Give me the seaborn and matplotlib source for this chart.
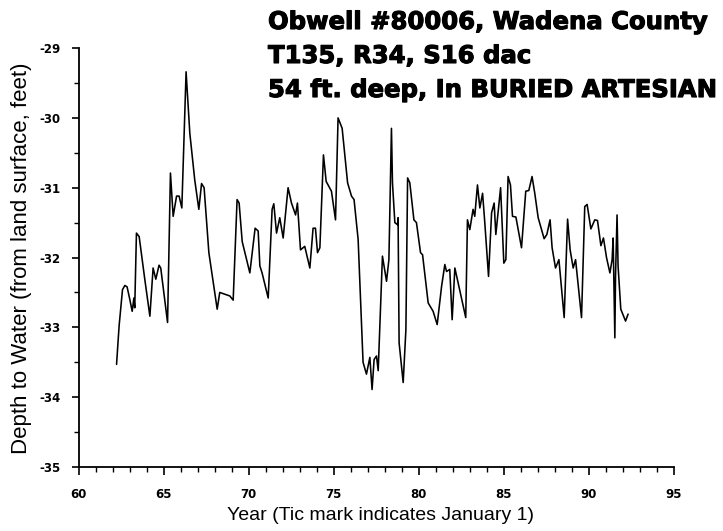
import numpy as np
import pandas as pd
import matplotlib
matplotlib.use("Agg")
import matplotlib.pyplot as plt
import matplotlib.patheffects as pe
import seaborn as sns

# Obwell #80006 hydrograph
year = [62.22, 62.37, 62.57, 62.71, 62.84, 63.00, 63.14, 63.24, 63.29, 63.39,
        63.55, 63.88, 64.18, 64.37, 64.53, 64.72, 64.82, 65.22, 65.39, 65.55,
        65.75, 65.90, 66.06, 66.31, 66.53, 66.82, 67.06, 67.22, 67.37, 67.65,
        68.14, 68.29, 68.88, 69.08, 69.31, 69.43, 69.61, 70.06, 70.37, 70.55,
        70.65, 70.78, 71.14, 71.37, 71.47, 71.63, 71.82, 72.02, 72.31, 72.51,
        72.75, 72.86, 73.04, 73.29, 73.59, 73.78, 73.92, 74.04, 74.18, 74.39,
        74.55, 74.86, 75.10, 75.25, 75.49, 75.81, 76.04, 76.19, 76.43, 76.72,
        76.92, 77.12, 77.25, 77.37, 77.51, 77.61, 77.86, 78.10, 78.24, 78.39,
        78.45, 78.59, 78.75, 78.78, 78.84, 79.08, 79.24, 79.34, 79.47, 79.71,
        79.86, 80.10, 80.22, 80.55, 80.84, 81.08, 81.34, 81.53, 81.63, 81.82,
        81.96, 82.12, 82.76, 82.86, 83.00, 83.19, 83.29, 83.45, 83.59, 83.75,
        83.88, 84.10, 84.28, 84.43, 84.53, 84.81, 85.00, 85.12, 85.25, 85.39,
        85.51, 85.71, 86.04, 86.29, 86.47, 86.66, 86.82, 87.02, 87.37, 87.53,
        87.72, 87.84, 88.04, 88.24, 88.55, 88.75, 88.90, 89.08, 89.22, 89.57,
        89.76, 89.90, 90.12, 90.35, 90.51, 90.71, 90.86, 91.04, 91.24, 91.37,
        91.43, 91.53, 91.57, 91.66, 91.72, 91.88, 92.16, 92.31]

depth = [-33.53, -32.98, -32.46, -32.40, -32.42, -32.60, -32.77, -32.58, -32.72, -31.65,
         -31.70, -32.31, -32.84, -32.15, -32.31, -32.11, -32.15, -32.93, -30.79, -31.41,
         -31.12, -31.12, -31.29, -29.34, -30.22, -30.89, -31.31, -30.94, -31.00, -31.93,
         -32.74, -32.50, -32.55, -32.61, -31.17, -31.22, -31.77, -32.22, -31.58, -31.62,
         -32.12, -32.22, -32.58, -31.31, -31.23, -31.65, -31.43, -31.72, -31.00, -31.22,
         -31.39, -31.22, -31.89, -31.84, -32.15, -31.58, -31.58, -31.93, -31.86, -30.53,
         -30.91, -31.05, -31.46, -30.00, -30.15, -30.93, -31.12, -31.17, -31.74, -33.50,
         -33.67, -33.43, -33.89, -33.46, -33.41, -33.62, -31.98, -32.34, -32.03, -30.15,
         -30.93, -31.50, -31.53, -31.43, -33.22, -33.79, -33.03, -30.86, -30.93, -31.46,
         -31.50, -31.93, -31.96, -32.65, -32.77, -32.96, -32.41, -32.10, -32.20, -32.17,
         -32.89, -32.15, -32.86, -31.46, -31.60, -31.31, -31.41, -30.96, -31.29, -31.08,
         -31.50, -32.27, -31.36, -31.22, -31.67, -31.00, -32.08, -32.03, -30.84, -30.96,
         -31.41, -31.42, -31.86, -31.05, -31.04, -30.84, -31.08, -31.43, -31.73, -31.67,
         -31.46, -31.86, -32.15, -32.03, -32.86, -31.45, -31.89, -32.15, -32.03, -32.86,
         -31.27, -31.24, -31.59, -31.46, -31.47, -31.83, -31.72, -32.00, -32.22, -32.03,
         -31.72, -33.15, -32.27, -31.39, -32.12, -32.74, -32.91, -32.81]

title_lines = ["Obwell #80006, Wadena County",
               "T135, R34, S16 dac",
               "54 ft. deep, In BURIED ARTESIAN"]
x_ticks = [60, 65, 70, 75, 80, 85, 90, 95]
y_ticks = [-35, -34, -33, -32, -31, -30, -29]

sns.set_style("ticks")
plt.rcParams['font.family'] = ['Liberation Sans', 'DejaVu Sans']
plt.rcParams['text.color'] = 'black'
plt.rcParams['xtick.color'] = 'black'
plt.rcParams['ytick.color'] = 'black'

df = pd.DataFrame({'year': year, 'depth': depth})

fig = plt.figure(figsize=(7.23, 5.31), dpi=100)
ax = fig.add_axes([0.109, 0.1205, 0.823, 0.789])
sns.lineplot(data=df, x='year', y='depth', color='black', linewidth=1.15,
             estimator=None, sort=False, ax=ax)

ax.set_xlim(60, 95)
ax.set_ylim(-35, -29)
ax.set_xticks(x_ticks)
ax.set_xticks(np.arange(60, 96, 1), minor=True)
ax.set_yticks(y_ticks)
ax.set_yticks(np.arange(-35, -28.9, 0.5), minor=True)
tick_font = dict(fontsize=8.5, fontweight='bold', family='DejaVu Sans')
ax.set_xticklabels([str(t) for t in x_ticks], **tick_font)
ax.set_yticklabels([str(t) for t in y_ticks], **tick_font)
ax.tick_params(axis='x', which='major', length=6, width=1.2, pad=9)
ax.tick_params(axis='x', which='minor', length=3.5, width=1.0)
ax.tick_params(axis='y', which='major', length=5, width=1.2, pad=8)
ax.tick_params(axis='y', which='minor', length=3.5, width=1.0)
ax.set_xlabel('')
ax.set_ylabel('')
sns.despine(ax=ax)
for s in ['left', 'bottom']:
    ax.spines[s].set_linewidth(1.3)
    ax.spines[s].set_color('black')

fig.text(0.526, 0.02, 'Year (Tic mark indicates January 1)', fontsize=14,
         ha='center', va='baseline')
fig.text(0.030, 0.514, 'Depth to Water (from land surface, feet)', fontsize=16,
         ha='center', va='center', rotation=90)

# heavy title block, upper right
for line, yb in zip(title_lines, [0.9454, 0.8814, 0.8173]):
    fig.text(0.3707, yb, line, fontsize=17.5, fontweight='bold',
             family='DejaVu Sans', ha='left', va='baseline',
             path_effects=[pe.withStroke(linewidth=0.8, foreground='black')])

fig.savefig('out.png', dpi=100)
